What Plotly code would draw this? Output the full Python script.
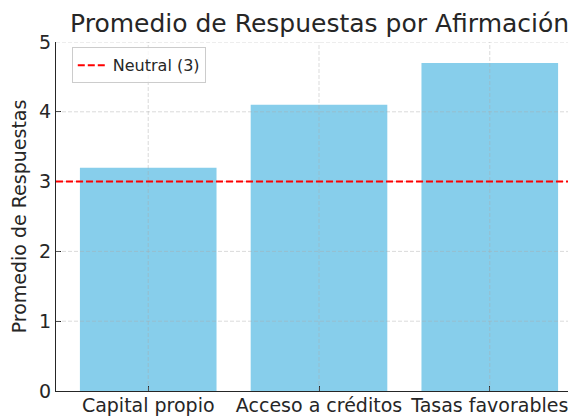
import plotly.graph_objects as go

categorias = ['Capital propio', 'Acceso a créditos', 'Tasas favorables']
promedios = [3.2, 4.1, 4.7]
neutral = 3
y_ticks = [0, 1, 2, 3, 4, 5]

fuente = 'DejaVu Sans'
gris_texto = '#262626'

fig = go.Figure()
fig.add_trace(go.Bar(x=list(range(len(categorias))), y=promedios, width=0.8,
                     marker=dict(color='#87CEEB', line=dict(width=0)),
                     showlegend=False))

# rejilla punteada por encima de las barras (como en matplotlib)
for t in y_ticks[1:]:
    fig.add_shape(type='line', xref='x domain', x0=0, x1=1, y0=t, y1=t, layer='above',
                  line=dict(color='rgba(170,170,170,0.55)', width=0.8, dash='4px,2px'))
for i in range(len(categorias)):
    fig.add_shape(type='line', yref='y domain', y0=0, y1=1, x0=i, x1=i, layer='above',
                  line=dict(color='rgba(170,170,170,0.55)', width=0.8, dash='4px,2px'))

fig.add_shape(type='line', xref='x domain', x0=0, x1=1, y0=neutral, y1=neutral, layer='above',
              line=dict(color='red', width=2, dash='7px,3px'),
              showlegend=True, name=f'Neutral ({neutral})')

fig.update_xaxes(range=[-0.54, 2.54], tickvals=list(range(len(categorias))), ticktext=categorias,
                 showgrid=False, zeroline=False, showline=True, linecolor=gris_texto, linewidth=1.2,
                 ticks='inside', ticklen=5, tickcolor=gris_texto, automargin=False,
                 ticklabelstandoff=-3,
                 tickfont=dict(family=fuente, size=19, color=gris_texto))
fig.update_yaxes(range=[0, 5], tickvals=y_ticks, showgrid=False, zeroline=False,
                 showline=True, linecolor=gris_texto, linewidth=1.2,
                 ticks='inside', ticklen=5, tickcolor=gris_texto, automargin=False,
                 tickfont=dict(family=fuente, size=19, color=gris_texto),
                 title=dict(text='Promedio de Respuestas', standoff=8,
                            font=dict(family=fuente, size=19, color=gris_texto)))

fig.update_layout(
    width=576, height=416,
    margin=dict(l=48, r=2, t=34, b=33),
    plot_bgcolor='white', paper_bgcolor='white',
    title=dict(text='Promedio de Respuestas por Afirmación', x=0.541, xanchor='center',
               y=0.964, yanchor='middle',
               font=dict(family=fuente, size=25, color=gris_texto)),
    legend=dict(x=0.030, y=0.985, xanchor='left', yanchor='top',
                bgcolor='rgba(255,255,255,0.8)', bordercolor='#cccccc', borderwidth=1,
                font=dict(family=fuente, size=16, color=gris_texto)),
    bargap=0.2,
)

fig.write_html('out.html')
